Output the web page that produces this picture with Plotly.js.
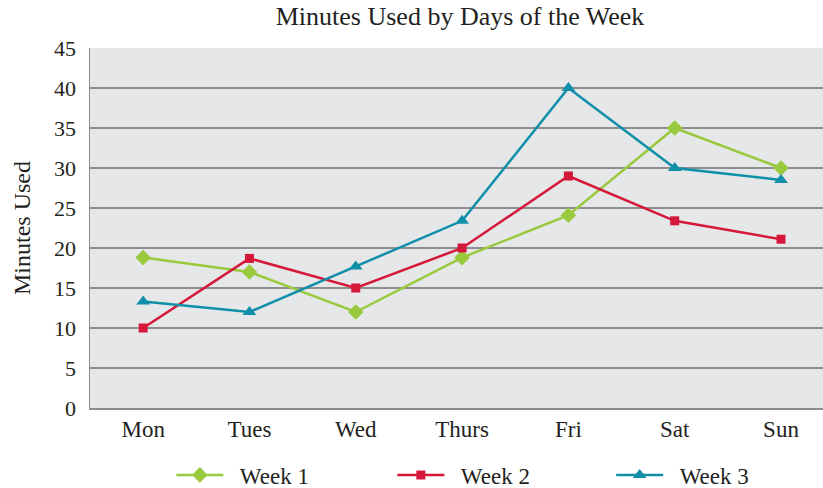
<!DOCTYPE html>
<html>
<head>
<meta charset="utf-8">
<script src="https://cdn.plot.ly/plotly-3.0.1.min.js"></script>
<style>html,body{margin:0;padding:0;background:#fff;}#chart{width:823px;height:488px;}</style>
</head>
<body>
<div id="chart"></div>
<script>
const days = ["Mon", "Tues", "Wed", "Thurs", "Fri", "Sat", "Sun"];
const week1 = [18.8, 17, 12, 18.8, 24.1, 35, 30];
const week2 = [10, 18.7, 15, 20, 29, 23.4, 21.1];
const week3 = [13.3, 12, 17.7, 23.4, 40, 30, 28.5];
const seriesNames = ["Week 1", "Week 2", "Week 3"];

const font = "Liberation Serif, Times New Roman, serif";
const pad = "\u00a0\u00a0";
const traces = [
  {x: days, y: week1, name: pad + seriesNames[0], legend: "legend", type: "scatter", mode: "lines+markers",
   line: {color: "#99c93c", width: 2.5}, marker: {symbol: "diamond", size: 12, color: "#99c93c"}},
  {x: days, y: week2, name: pad + seriesNames[1], legend: "legend2", type: "scatter", mode: "lines+markers",
   line: {color: "#d5173a", width: 2.5}, marker: {symbol: "square", size: 9, color: "#d5173a"}},
  {x: days, y: week3, name: pad + seriesNames[2], legend: "legend3", type: "scatter", mode: "lines+markers",
   line: {color: "#108fa9", width: 2.5}, marker: {symbol: "triangle-up", size: 12, color: "#108fa9"}}
];
function leg(x) {
  return {orientation: "h", x: x, xanchor: "left", y: -0.186, yanchor: "middle",
          itemwidth: 47, font: {size: 23}, bgcolor: "rgba(0,0,0,0)"};
}
const layout = {
  width: 823, height: 488,
  margin: {l: 90, r: 0, t: 48, b: 80, autoexpand: false},
  paper_bgcolor: "#ffffff",
  plot_bgcolor: "#e6e7e8",
  font: {family: font, color: "#231f20", size: 22},
  title: {text: "Minutes Used by Days of the Week", font: {family: font, size: 26, color: "#231f20"},
          x: 0.559, xanchor: "center", y: 0.968, yanchor: "middle"},
  xaxis: {type: "category", range: [-0.5, 6.395], showgrid: false, showline: true, linecolor: "#8c8c8c",
          linewidth: 1.5, ticks: "", tickfont: {size: 23}, zeroline: false, fixedrange: true},
  yaxis: {range: [0, 45], dtick: 5, showgrid: true, gridcolor: "#8e8e8e", gridwidth: 1.6, showline: true,
          linecolor: "#8c8c8c", linewidth: 1.5, ticks: "", ticklen: 0, tickfont: {size: 22},
          ticklabelstandoff: 8,
          zeroline: false, title: {text: "Minutes Used", font: {size: 24}, standoff: 16}},
  showlegend: true,
  legend: leg(0.111),
  legend2: leg(0.4125),
  legend3: leg(0.711)
};
Plotly.newPlot("chart", traces, layout, {displayModeBar: false, staticPlot: true});
</script>
</body>
</html>
